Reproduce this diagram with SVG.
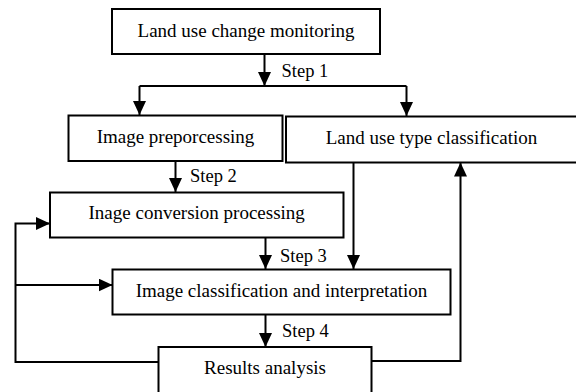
<svg xmlns="http://www.w3.org/2000/svg" width="576" height="392" viewBox="0 0 576 392">
<style>
.box{fill:#fff;stroke:#000;stroke-width:2}
.t{font-family:"Liberation Serif","Times New Roman",serif;font-size:19px;fill:#000;text-anchor:middle}
.s{font-family:"Liberation Serif","Times New Roman",serif;font-size:18.5px;fill:#000}
.c{fill:none;stroke:#000;stroke-width:2}
</style>
<defs>
<marker id="ah" markerUnits="userSpaceOnUse" markerWidth="14" markerHeight="13" refX="14" refY="6.5" orient="auto">
<path d="M0,0 L14,6.5 L0,13 z" fill="#000"/>
</marker>
</defs>
<rect width="576" height="392" fill="#fff"/>
<g id="connectors">
<line class="c" x1="264.5" y1="54" x2="264.5" y2="86" marker-end="url(#ah)"/>
<line class="c" x1="139.5" y1="86" x2="406.5" y2="86"/>
<line class="c" x1="139.5" y1="86" x2="139.5" y2="115" marker-end="url(#ah)"/>
<line class="c" x1="406.5" y1="86" x2="406.5" y2="116" marker-end="url(#ah)"/>
<line class="c" x1="175.5" y1="161" x2="175.5" y2="192" marker-end="url(#ah)"/>
<line class="c" x1="265.5" y1="237.5" x2="265.5" y2="269" marker-end="url(#ah)"/>
<line class="c" x1="353.5" y1="162.5" x2="353.5" y2="269" marker-end="url(#ah)"/>
<line class="c" x1="265.5" y1="314.5" x2="265.5" y2="347" marker-end="url(#ah)"/>
<polyline class="c" points="158.5,362 15.5,362 15.5,223.5 50,223.5" marker-end="url(#ah)"/>
<line class="c" x1="15.5" y1="285" x2="112.5" y2="285" marker-end="url(#ah)"/>
<polyline class="c" points="371.5,361 460.5,361 460.5,162.5" marker-end="url(#ah)"/>
</g>
<g id="n1"><rect class="box" x="112" y="9" width="268" height="45"/><text class="t" x="246" y="37">Land use change monitoring</text></g>
<g id="n2"><rect class="box" x="68.5" y="115.5" width="214" height="45.5"/><text class="t" x="175.5" y="143">Image preporcessing</text></g>
<g id="n3"><rect class="box" x="286" y="116.5" width="300" height="46"/><text class="t" x="431.5" y="143.5">Land use type classification</text></g>
<g id="n4"><rect class="box" x="50" y="192.5" width="293.5" height="45"/><text class="t" x="196.7" y="219">Inage conversion processing</text></g>
<g id="n5"><rect class="box" x="112.5" y="269.5" width="338" height="45"/><text class="t" x="281.5" y="297">Image classification and interpretation</text></g>
<g id="n6"><rect class="box" x="158.5" y="347" width="213" height="60"/><text class="t" x="265" y="374">Results analysis</text></g>
<g id="labels">
<text class="s" x="281.5" y="77">Step 1</text>
<text class="s" x="190" y="182">Step 2</text>
<text class="s" x="280" y="262">Step 3</text>
<text class="s" x="282" y="337">Step 4</text>
</g>
</svg>
